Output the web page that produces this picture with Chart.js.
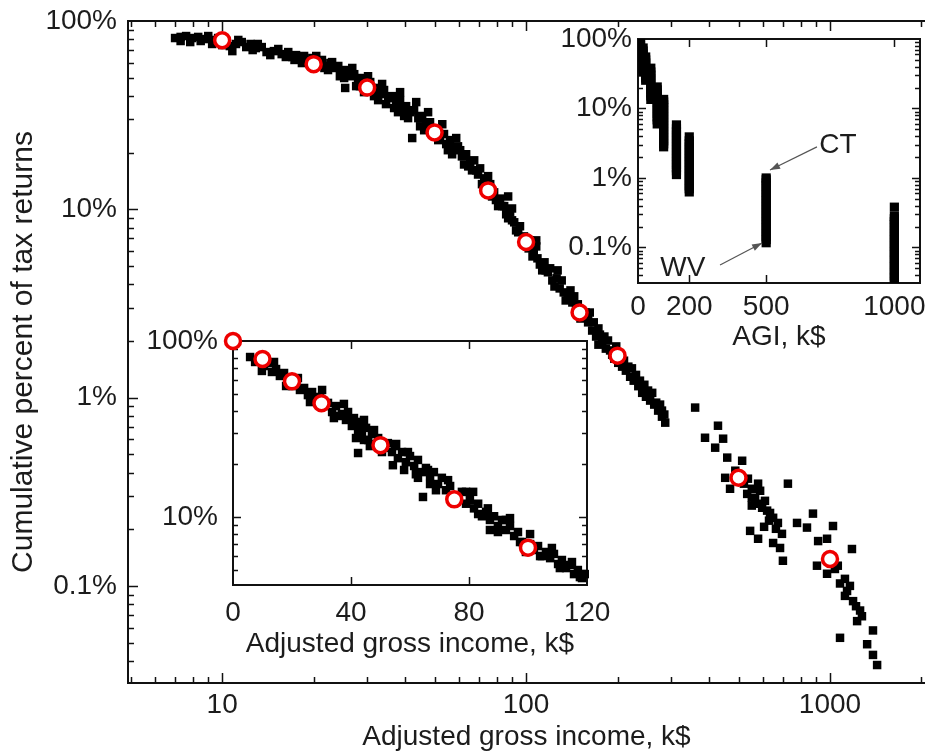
<!DOCTYPE html>
<html>
<head>
<meta charset="utf-8">
<script src="https://cdn.jsdelivr.net/npm/chart.js@4.4.1/dist/chart.umd.min.js"></script>
<style>
  html, body { margin: 0; padding: 0; background: #fff; }
  #wrap { position: relative; width: 925px; height: 752px; overflow: hidden; }
  canvas { position: absolute; }
</style>
</head>
<body>
<div id="wrap">
  <canvas id="mainChart" width="925" height="752" style="left:0;top:0"></canvas>
  <canvas id="lowInset" width="480" height="340" style="left:140px;top:325px"></canvas>
  <canvas id="agiInset" width="375" height="340" style="left:550px;top:28px"></canvas>
</div>
<script>
// US totals: share of returns with AGI above threshold (k$ -> %)
const usIncome = [10, 20, 30, 50, 75, 100, 150, 200, 500, 1000];
const usShare = [79, 59, 44.3, 25.6, 12.6, 6.7, 2.83, 1.67, 0.375, 0.139];

// states, rescaled income (main panel) [k$, %]
const mainBand = [
  [7.0,81.2],[7.3,82.3],[7.3,78.3],[7.61,83.2],[7.85,77.3],[7.96,81.2],[8.34,82.3],[8.5,78.3],[8.73,80.2],
  [9.0,83.2],[9.27,75.5],[9.41,79.3],[9.70,81.2],[10.0,74.5],[10.3,78.3],[10.6,73.6],[10.8,69.2],[11.1,75.5],
  [11.3,79.3],[11.6,77.3],[12.0,72.7],[12.4,75.5],[12.6,70.1],[12.9,71.8],[13.1,75.5],[13.5,72.7],[14.0,68.4],
  [14.4,65.9],[14.8,69.2],[15.3,71.0],[15.7,66.7],[16.2,64.4],[16.5,68.4],[17.0,64.4],[17.3,62.1],[17.5,65.9],
  [18.1,63.6],[18.3,59.8],[18.6,65.2],[19.2,61.3],[19.5,58.4],[19.8,63.6],[20.4,65.2],[20.7,60.5],[21.3,62.1],
  [21.7,56.3],[22.0,57.7],[22.3,54.9],[22.7,59.8],[23.0,60.5],[23.3,56.3],[24.1,57.7],[24.4,50.9],[24.8,53.5],
  [25.2,49.8],[25.4,44.1],[25.6,54.9],[26.4,50.9],[26.8,56.3],[27.2,52.2],[27.6,45.1],[28.0,48.6],[28.4,45.1],
  [28.9,49.8],[29.3,41.9],[29.8,46.3],[30.2,50.9],[30.7,47.4],[31.1,43.0],[31.6,39.9],[32.1,44.1],[32.6,38.0],
  [33.1,40.9],[33.6,46.3],[34.1,43.0],[34.6,36.2],[35.2,38.9],[36.2,39.9],[36.8,34.5],[37.4,37.1],[37.9,32.8],
  [38.5,38.0],[38.5,41.9],[39.1,34.5],[39.7,31.3],[40.3,35.3],[40.9,30.5],[41.5,32.8],[42.2,23.9],[42.8,33.6],
  [43.5,37.1],[44.2,30.5],[44.8,27.6],[45.5,31.3],[46.2,26.3],[46.9,28.3],[47.6,32.8],[48.3,29.0],[49.1,25.7],
  [50.6,26.3],[51.4,23.3],[52.1,24.5],[53.0,28.3],[53.7,25.1],[54.6,22.2],[55.3,20.6],[56.2,23.3],[57.1,19.6],
  [57.9,21.1],[58.9,23.9],[59.7,21.6],[60.7,20.6],[61.5,19.1],[62.5,17.3],[63.5,19.6],[64.5,16.9],[65.5,17.8],
  [66.4,16.1],[67.5,18.2],[68.5,16.1],[69.5,15.3],[70.6,16.5],[71.6,13.6],[72.8,14.6],[73.9,13.2],[75.0,15.0],
  [76.2,13.6],[77.3,11.7],[78.5,12.3],[79.6,11.2],[80.9,10.4],[82.1,11.4],[83.4,10.4],[84.7,10.4],[86.0,9.41],
  [87.3,8.96],[87.3,11.7],[88.6,9.64],[89.9,10.1],[89.9,8.74],[91.4,8.53],[92.7,7.73],[94.2,7.55],[95.5,8.13],
  [98.4,7.18],[102,6.20],[103,6.84],[105,5.62],[106,5.91],[108,6.35],[108,6.84],[109,5.49],[111,5.09],[113,4.74],
  [115,5.23],[116,4.74],[118,4.63],[120,4.86],[122,4.19],[124,3.89],[126,4.30],[127,4.74],[129,3.80],[131,4.19],
  [133,3.62],[135,3.28],[137,3.45],[140,3.71],[142,3.20],[144,3.45],[146,2.97],[148,3.13],[151,2.63],[155,2.70],
  [157,2.83],[160,2.51],[160,2.76],[162,2.83],[165,2.27],[167,2.51],[170,2.11],[173,1.91],[173,2.33],[175,2.16],
  [178,1.96],[181,2.11],[183,1.82],[186,2.01],[189,1.78],[192,1.69],[195,1.61],[198,1.87],[201,1.53],[204,1.65],
  [207,1.46],[210,1.57],[213,1.39],[217,1.46],[220,1.29],[223,1.43],[226,1.23],[230,1.32],[234,1.15],[237,1.23],
  [241,1.06],[245,1.17],[248,1.01],[252,1.09],[256,0.964],[260,1.06],[264,0.918],[268,0.94],[272,0.853],
  [276,0.918],[280,0.792],[280,0.853],[285,0.813],[287,0.736]
];
const mainTail = [
  [360,0.885],[428,0.709],[388,0.612],[445,0.605],[419,0.542],[459,0.480],[514,0.462],[452,0.375],[488,0.409],
  [521,0.349],[537,0.371],[580,0.349],[727,0.349],[469,0.328],[553,0.328],[534,0.308],[589,0.320],[553,0.294],
  [567,0.290],[589,0.273],[611,0.283],[553,0.267],[598,0.260],[621,0.251],[635,0.244],[650,0.230],[630,0.222],
  [674,0.216],[607,0.206],[664,0.201],[546,0.196],[580,0.178],[650,0.169],[695,0.189],[685,0.159],[700,0.136],
  [779,0.216],[840,0.204],[879,0.242],[914,0.173],[1023,0.208],[978,0.178],[1181,0.157],[906,0.128],[978,0.116],
  [1038,0.123],[1061,0.128],[1120,0.109],[1079,0.103],[1163,0.100],[1138,0.094],[1191,0.083],[1120,0.0885],
  [1218,0.078],[1256,0.074],[1274,0.069],[1228,0.065],[1079,0.053],[1385,0.058],[1325,0.049],[1385,0.043],
  [1429,0.038]
];

// lower inset, linear income axis [k$, %]
const lowBand = [
  [5.8,81.1],[7.5,76.0],[9.2,78.0],[9.8,67.6],[10.5,72.1],[11.9,75.0],[13.2,66.7],[13.9,76.0],[14.6,69.3],
  [15.9,63.3],[17.3,65.8],[18.0,55.5],[18.6,59.3],[20.0,55.5],[21.4,57.0],[22.0,61.6],[22.7,52.7],[24.1,54.1],
  [25.4,49.3],[26.1,45.0],[26.8,51.3],[28.1,46.2],[29.5,48.1],[30.2,52.7],[30.8,42.7],[32.2,44.5],[33.6,39.5],
  [34.2,36.5],[34.9,42.7],[35.6,37.5],[36.9,38.5],[37.6,43.9],[38.3,35.6],[39.0,39.5],[40.3,32.9],[41.0,36.5],
  [41.7,28.1],[42.4,31.2],[42.4,23.1],[43.1,34.7],[43.7,28.9],[44.4,35.6],[44.4,27.4],[45.1,32.1],[45.8,27.4],
  [46.4,25.3],[47.1,29.6],[47.8,31.2],[48.5,26.0],[49.2,28.1],[50.5,23.4],[51.2,24.7],[52.5,26.3],[53.9,23.4],
  [54.2,19.7],[54.9,25.3],[55.3,26.0],[55.9,21.6],[57.3,23.4],[58.0,18.5],[58.6,20.5],[59.3,23.4],[60.0,22.2],
  [61.4,19.5],[62.0,17.5],[62.7,21.1],[62.7,16.7],[64.1,18.0],[64.4,13.0],[65.4,19.0],[66.1,18.5],[66.8,17.1],
  [66.8,15.4],[68.1,18.0],[68.8,14.2],[69.5,15.4],[70.8,16.7],[72.2,14.2],[72.9,16.2],[73.6,15.0],[74.9,12.5],
  [75.6,12.2],[76.3,13.2],[77.6,13.9],[79.0,11.9],[79.0,13.9],[80.3,12.5],[81.4,13.9],[81.7,11.2],[83.1,11.9],
  [83.1,10.4],[84.4,10.1],[85.8,10.7],[86.4,11.2],[87.1,9.62],[87.1,8.44],[88.5,10.1],[89.8,8.89],[89.8,8.22],
  [91.2,9.62],[92.5,8.44],[92.5,9.62],[93.9,8.89],[93.9,9.86],[95.3,7.80],[96.6,8.22],[97.3,7.21],[98.0,7.21],
  [99.3,6.33],[100.7,7.02],[100.7,8.0],[102.0,6.50],[103.4,6.84],[104.1,6.00],[104.7,6.00],[106.1,6.33],
  [107.5,5.84],[108.1,6.67],[108.8,6.17],[110.2,5.41],[110.8,5.13],[111.5,5.70],[112.9,5.13],[114.2,5.34],
  [114.9,5.55],[115.6,4.74],[116.9,5.00],[117.6,4.56],[118.3,4.50],[119.3,4.74]
];

// upper inset: raw state shares at each AGI threshold
const agiThresholds = [0, 10, 20, 30, 50, 75, 100, 150, 200, 500, 1000];
const stateShares = [
  [100, 97],
  [90.5, 82, 74.2, 67.2, 60.8, 55.1],
  [74.2, 67.2, 60.8, 55.1, 49.9, 45.2, 40.9, 37.0, 33.5],
  [55.1, 49.9, 45.2, 40.9, 37.0, 33.5, 30.3, 27.5, 25.5],
  [38.0, 33.5, 30.3, 27.5, 24.9, 22.5, 20.4, 18.5, 16.7, 15.2, 13.5],
  [20.4, 18.5, 16.7, 15.2, 13.7, 12.4, 11.3, 10.2, 9.25, 8.37, 7.58, 6.86, 6.0],
  [13.5, 12.4, 11.3, 10.2, 9.25, 8.37, 7.58, 6.86, 6.21, 5.63, 5.09, 4.61, 4.18, 3.78, 3.42, 3.10, 2.81],
  [5.8, 5.09, 4.61, 4.18, 3.78, 3.42, 3.10, 2.81, 2.54, 2.30, 2.08, 1.89, 1.71, 1.55, 1.40, 1.27, 1.12],
  [3.9, 3.42, 3.10, 2.81, 2.54, 2.30, 2.08, 1.89, 1.71, 1.55, 1.40, 1.27, 1.15, 1.04, 0.94, 0.85, 0.77, 0.70, 0.63],
  [1.0, 0.94, 0.85, 0.77, 0.70, 0.63, 0.574, 0.52, 0.471, 0.426, 0.386, 0.349, 0.316, 0.286, 0.259, 0.235, 0.213,
   0.193, 0.174, 0.158, 0.143, 0.13, 0.117],
  [0.38, 0.28, 0.259, 0.235, 0.213, 0.193, 0.174, 0.158, 0.143, 0.13, 0.117, 0.106, 0.096, 0.087, 0.079, 0.071,
   0.065, 0.058, 0.053, 0.048, 0.043, 0.039, 0.036, 0.032]
];
const noteText = ['CT', 'WV'];
const noteAt = [[780, 2.99], [175, 0.0507]];
const arrowFrom = [[698, 2.8], [320, 0.056]];
const arrowTo = [[515, 1.30], [484, 0.116]];

// tick labels
const mainXTicks = [10, 100, 1000];
const mainYTicks = [0.1, 1, 10, 100];
const lowXTicks = [0, 40, 80, 120];
const lowYTicks = [10, 100];
const agiXTicks = [0, 200, 500, 1000];
const agiYTicks = [0.1, 1, 10, 100];

const FONT = "'Liberation Sans', Arial, sans-serif";
const INK = '#1c1c1c';

function logMinors(min, max) {
  const out = [];
  for (let e = Math.floor(Math.log10(min)); e <= Math.ceil(Math.log10(max)); e++) {
    for (let m = 2; m < 10; m++) {
      const v = m * Math.pow(10, e);
      if (v > min && v < max) out.push(v);
    }
  }
  return out;
}

const frameTicks = {
  id: 'frameTicks',
  beforeDatasetsDraw(chart, args, o) {
    const {ctx, chartArea: a, scales: {x, y}} = chart;
    ctx.save();
    ctx.fillStyle = '#fff';
    ctx.fillRect(a.left, a.top, a.right - a.left, a.bottom - a.top);
    ctx.strokeStyle = '#111';
    ctx.lineWidth = 1.5;
    const xMark = (list, len) => list.forEach(v => {
      const p = Math.round(x.getPixelForValue(v)) + 0.5;
      if (p < a.left + 2 || p > a.right - 2) return;
      ctx.beginPath();
      ctx.moveTo(p, a.bottom); ctx.lineTo(p, a.bottom - len);
      ctx.moveTo(p, a.top); ctx.lineTo(p, a.top + len);
      ctx.stroke();
    });
    const yMark = (list, len) => list.forEach(v => {
      const p = Math.round(y.getPixelForValue(v)) + 0.5;
      if (p < a.top + 2 || p > a.bottom - 2) return;
      ctx.beginPath();
      ctx.moveTo(a.left, p); ctx.lineTo(a.left + len, p);
      if (!o.openRight) { ctx.moveTo(a.right, p); ctx.lineTo(a.right - len, p); }
      ctx.stroke();
    });
    xMark(o.xMajor, o.major); xMark(o.xMinor, o.minor);
    yMark(o.yMajor, o.major); yMark(o.yMinor, o.minor);
    ctx.lineWidth = 2;
    ctx.beginPath();
    if (o.openRight) {
      ctx.moveTo(a.right, a.top); ctx.lineTo(a.left, a.top); ctx.lineTo(a.left, a.bottom); ctx.lineTo(a.right, a.bottom);
    } else {
      ctx.rect(a.left, a.top, a.right - a.left, a.bottom - a.top);
    }
    ctx.stroke();
    ctx.restore();
  }
};

const agiNotes = {
  id: 'agiNotes',
  afterDatasetsDraw(chart) {
    const {ctx, scales: {x, y}} = chart;
    ctx.save();
    ctx.font = '28px ' + FONT;
    ctx.fillStyle = INK;
    ctx.textAlign = 'center';
    ctx.textBaseline = 'middle';
    noteText.forEach((t, i) => ctx.fillText(t, x.getPixelForValue(noteAt[i][0]), y.getPixelForValue(noteAt[i][1])));
    ctx.strokeStyle = '#555';
    ctx.fillStyle = '#555';
    ctx.lineWidth = 1.2;
    arrowFrom.forEach((f, i) => {
      const x0 = x.getPixelForValue(f[0]), y0 = y.getPixelForValue(f[1]);
      const x1 = x.getPixelForValue(arrowTo[i][0]), y1 = y.getPixelForValue(arrowTo[i][1]);
      const ang = Math.atan2(y1 - y0, x1 - x0);
      ctx.beginPath(); ctx.moveTo(x0, y0); ctx.lineTo(x1, y1); ctx.stroke();
      ctx.beginPath();
      ctx.moveTo(x1, y1);
      ctx.lineTo(x1 - 10 * Math.cos(ang) + 3.5 * Math.sin(ang), y1 - 10 * Math.sin(ang) - 3.5 * Math.cos(ang));
      ctx.lineTo(x1 - 10 * Math.cos(ang) - 3.5 * Math.sin(ang), y1 - 10 * Math.sin(ang) + 3.5 * Math.cos(ang));
      ctx.closePath(); ctx.fill();
    });
    ctx.restore();
  }
};

function axis(kind, min, max, tickList, fmt, pad, title, titlePad, titleSize, size) {
  const horiz = size.h !== undefined;
  return {
    type: kind, min: min, max: max, bounds: 'data',
    grid: {display: false, drawTicks: false},
    border: {display: false},
    ticks: {
      autoSkip: false, maxRotation: 0, padding: pad, color: INK,
      font: {family: FONT, size: 28, lineHeight: 1},
      callback: fmt
    },
    title: {display: !!title, text: title, color: INK, font: {family: FONT, size: titleSize, lineHeight: 1}, padding: titlePad},
    afterBuildTicks: s => { s.ticks = tickList.map(v => ({value: v})); },
    afterFit: s => {
      if (horiz) { s.height = size.h; s.paddingLeft = 0; s.paddingRight = 0; }
      else { s.width = size.w; s.paddingTop = 0; s.paddingBottom = 0; }
    }
  };
}

function baseOptions(padding, scales, frame, extra) {
  return {
    responsive: false, animation: false, devicePixelRatio: 1, events: [],
    layout: {padding: padding, autoPadding: false},
    plugins: Object.assign({legend: {display: false}, tooltip: {enabled: false}, frameTicks: frame}, extra || {}),
    scales: scales
  };
}

const pct = v => v + '%';
const num = v => String(v);
const redRing = {pointStyle: 'circle', pointRadius: 7.5, pointBorderWidth: 3.5,
  pointBorderColor: '#ee0000', pointBackgroundColor: '#fff', clip: false};
const blackDot = {pointStyle: 'rect', pointRadius: 6, pointBorderWidth: 0, pointBackgroundColor: '#000'};

// main panel
const mX = [4.9, 2054], mY = [0.0305, 100];
new Chart(document.getElementById('mainChart'), {
  type: 'scatter',
  data: {datasets: [
    Object.assign({data: usIncome.map((v, i) => ({x: v, y: usShare[i]}))}, redRing),
    Object.assign({data: mainBand.concat(mainTail).map(p => ({x: p[0], y: p[1]})), clip: false}, blackDot)
  ]},
  options: baseOptions({top: 21, right: 0, bottom: 0, left: 0}, {
    x: axis('logarithmic', mX[0], mX[1], mainXTicks, num, 8, 'Adjusted gross income, k$', {top: 0, bottom: 1}, 28, {h: 69}),
    y: axis('logarithmic', mY[0], mY[1], mainYTicks, pct, 11, 'Cumulative percent of tax returns', {top: 9, bottom: 0}, 30, {w: 128})
  }, {xMajor: mainXTicks, xMinor: logMinors(mX[0], mX[1]), yMajor: mainYTicks, yMinor: logMinors(mY[0], mY[1]),
      major: 10, minor: 6, openRight: true}),
  plugins: [frameTicks]
});

// lower inset
const lY = [4.11, 100];
new Chart(document.getElementById('lowInset'), {
  type: 'scatter',
  data: {datasets: [
    Object.assign({data: [{x: 0, y: 100}].concat(usIncome.slice(0, 6).map((v, i) => ({x: v, y: usShare[i]})))}, redRing),
    Object.assign({data: lowBand.map(p => ({x: p[0], y: p[1]})), clip: 2}, blackDot)
  ]},
  options: baseOptions({top: 16, right: 33, bottom: 0, left: 0}, {
    x: axis('linear', 0, 120, lowXTicks, num, 14, 'Adjusted gross income, k$', {top: 0, bottom: 7}, 28, {h: 80}),
    y: axis('logarithmic', lY[0], lY[1], lowYTicks, pct, 15, '', 0, 28, {w: 93})
  }, {xMajor: lowXTicks, xMinor: [], yMajor: lowYTicks, yMinor: logMinors(lY[0], lY[1]), major: 8, minor: 5}),
  plugins: [frameTicks]
});

// upper inset
const aY = [0.0308, 100];
const agiPoints = [];
agiThresholds.forEach((t, i) => stateShares[i].forEach(s => agiPoints.push({x: t, y: s})));
new Chart(document.getElementById('agiInset'), {
  type: 'scatter',
  data: {datasets: [
    Object.assign({data: agiPoints, clip: 0}, blackDot, {pointRadius: 6.5})
  ]},
  options: baseOptions({top: 11, right: 5, bottom: 0, left: 0}, {
    x: axis('linear', 0, 1100, agiXTicks, num, 10, 'AGI, k$', {top: 0, bottom: 17}, 28, {h: 85}),
    y: axis('logarithmic', aY[0], aY[1], agiYTicks, pct, 6, '', 0, 28, {w: 88})
  }, {xMajor: agiXTicks, xMinor: [], yMajor: agiYTicks, yMinor: logMinors(aY[0], aY[1]), major: 8, minor: 5}),
  plugins: [frameTicks, agiNotes]
});
</script>
</body>
</html>
